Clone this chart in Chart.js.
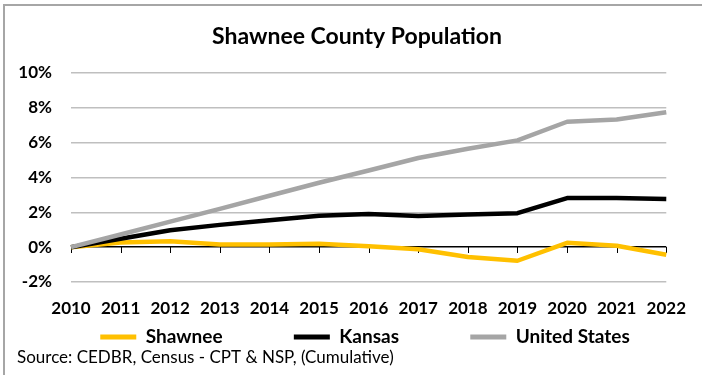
<!DOCTYPE html>
<html><head><meta charset="utf-8">
<script src="https://cdn.jsdelivr.net/npm/chart.js@4/dist/chart.umd.min.js"></script>
<style>html,body{margin:0;padding:0;background:#fff}#wrap{width:702px;height:375px;position:relative}</style>
</head><body><div id="wrap"><canvas id="c" width="702" height="375"></canvas></div>
<script>
const years = ['2010','2011','2012','2013','2014','2015','2016','2017','2018','2019','2020','2021','2022'];
const shawnee = [0, 0.27, 0.34, 0.15, 0.15, 0.2, 0.05, -0.12, -0.57, -0.78, 0.25, 0.08, -0.44];
const kansas = [0, 0.48, 0.97, 1.28, 1.55, 1.8, 1.9, 1.79, 1.88, 1.95, 2.82, 2.82, 2.77];
const unitedStates = [0, 0.73, 1.47, 2.2, 2.95, 3.7, 4.4, 5.12, 5.65, 6.13, 7.2, 7.33, 7.75];
const seriesNames = ['Shawnee', 'Kansas', 'United States'];
const seriesColors = ['#FFC000', '#000000', '#A5A5A5'];
const titleText = 'Shawnee County Population';
const sourceText = 'Source: CEDBR, Census - CPT & NSP, (Cumulative)';

const FONT = 'Lato';
const LEGEND_GAP = '\u2003\u2003\u2003\u2003\u2003';

const framePlugin = {
  id: 'frame',
  beforeDraw(chart) {
    const ctx = chart.ctx;
    ctx.save();
    ctx.fillStyle = '#ffffff';
    ctx.fillRect(0, 0, chart.width, chart.height);
    ctx.fillStyle = '#A6A6A6';
    ctx.fillRect(3, 4, chart.width - 3, 2);
    ctx.fillRect(3, 4, 2, chart.height - 4);
    ctx.restore();
  }
};

const zeroTicksPlugin = {
  id: 'zeroTicks',
  beforeDatasetsDraw(chart) {
    const ctx = chart.ctx, xs = chart.scales.x, ys = chart.scales.y;
    const y0 = Math.round(ys.getPixelForValue(0));
    ctx.save();
    ctx.strokeStyle = '#000';
    ctx.lineWidth = 1;
    ctx.beginPath();
    years.forEach((y, i) => {
      const x = Math.round(xs.getPixelForValue(i)) + 0.5;
      ctx.moveTo(x, y0);
      ctx.lineTo(x, y0 + 6);
    });
    ctx.stroke();
    ctx.restore();
  }
};

const legendPlacePlugin = {
  id: 'legendPlace',
  afterLayout(chart) {
    const lg = chart.legend;
    if (!lg) return;
    const shiftY = 337 - (lg.top + 9.5);
    lg.top += shiftY; lg.bottom += shiftY;
    lg.left += 8; lg.right += 8;
  }
};

const mk = (i, data, order) => ({
  label: seriesNames[i],
  data: data,
  borderColor: seriesColors[i],
  backgroundColor: seriesColors[i],
  borderWidth: 4.5,
  pointRadius: 0,
  pointHoverRadius: 0,
  tension: 0,
  fill: false,
  borderJoinStyle: 'round',
  order: order
});

new Chart(document.getElementById('c'), {
  type: 'line',
  data: {
    labels: years,
    datasets: [mk(0, shawnee, 3), mk(1, kansas, 2), mk(2, unitedStates, 1)]
  },
  options: {
    responsive: false,
    animation: false,
    devicePixelRatio: 1,
    layout: { padding: { left: 17, right: 5, top: 0, bottom: 0 } },
    plugins: {
      tooltip: { enabled: false },
      title: {
        display: true,
        text: titleText,
        color: '#000',
        font: { family: FONT, size: 23, weight: 'bold' },
        padding: { top: 23.2, bottom: 22.2 }
      },
      subtitle: {
        display: true,
        text: sourceText,
        position: 'bottom',
        align: 'start',
        color: '#000',
        font: { family: FONT, size: 17, weight: 'normal' },
        padding: { top: 0, bottom: 7.2 }
      },
      legend: {
        display: true,
        position: 'bottom',
        labels: {
          color: '#000',
          font: { family: FONT, size: 19, weight: 'bold' },
          boxWidth: 36,
          boxHeight: 5,
          padding: 0,
          generateLabels(chart) {
            const n = chart.data.datasets.length;
            return chart.data.datasets.map((ds, i) => ({
              text: ds.label + (i < n - 1 ? LEGEND_GAP : ''),
              fillStyle: ds.borderColor,
              strokeStyle: ds.borderColor,
              lineWidth: 0,
              hidden: false,
              datasetIndex: i,
              fontColor: '#000'
            }));
          }
        }
      }
    },
    scales: {
      x: {
        type: 'category',
        offset: false,
        grid: { display: false, drawTicks: false },
        border: { display: false },
        ticks: {
          color: '#000',
          font: { family: FONT, size: 17, weight: 'bold' },
          padding: 16,
          maxRotation: 0,
          autoSkip: false
        },
        afterFit(s) { s.height = 36.4; }
      },
      y: {
        min: -2,
        max: 10,
        grid: {
          drawTicks: false,
          color: (c) => (c.tick && c.tick.value === 0) ? '#000000' : '#BFBFBF',
          lineWidth: 1.5
        },
        border: { display: false },
        ticks: {
          stepSize: 2,
          color: '#000',
          font: { family: FONT, size: 17, weight: 'bold' },
          padding: 19,
          callback: (v) => v + '%'
        },
        afterFit(s) { s.width = 54; }
      },
      yRight: {
        type: 'linear',
        position: 'right',
        display: true,
        grid: { display: false, drawTicks: false },
        border: { display: false },
        ticks: { display: false },
        afterFit(s) { s.width = 26; }
      }
    }
  },
  plugins: [framePlugin, zeroTicksPlugin, legendPlacePlugin]
});
</script>
</body></html>
